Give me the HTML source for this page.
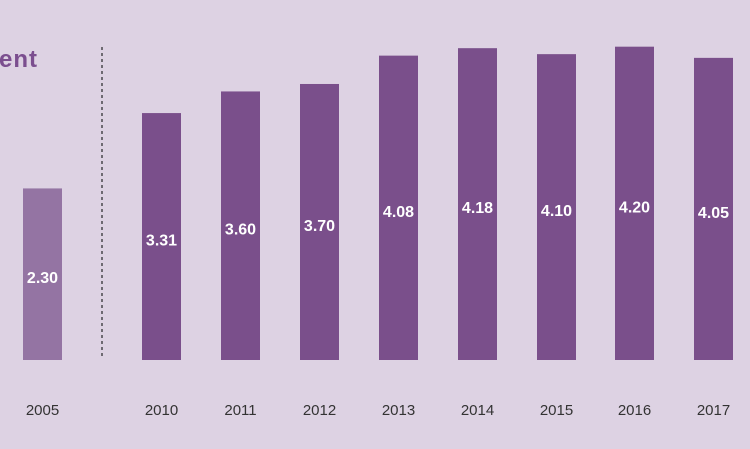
<!DOCTYPE html>
<html><head><meta charset="utf-8"><style>
body{margin:0;background:#ddd2e3;}
svg{display:block;font-family:"Liberation Sans",sans-serif;}
</style></head><body>
<svg id="chart" width="750" height="449" viewBox="0 0 750 449">
<rect x="0" y="0" width="750" height="449" fill="#ddd2e3"/>
<text x="-1" y="67" font-size="24" font-weight="bold" letter-spacing="1" fill="#7b4e8f">ent</text>
<line x1="102" y1="47" x2="102" y2="357" stroke="#6e6a72" stroke-width="2" stroke-dasharray="3,3"/>
<g id="bars"></g>
</svg>
<script>
const years = ["2005","2010","2011","2012","2013","2014","2015","2016","2017"];
const values = [2.30,3.31,3.60,3.70,4.08,4.18,4.10,4.20,4.05];
const labels = ["2.30","3.31","3.60","3.70","4.08","4.18","4.10","4.20","4.05"];
const xLeft = [23,142,221,300,379,458,537,615,694];
const baseY=360, scale=74.6, bw=39;
const yAxis = v => baseY - v*scale;
const g=document.getElementById('bars');
const ns="http://www.w3.org/2000/svg";
years.forEach((yr,i)=>{
  const top=yAxis(values[i]);
  const r=document.createElementNS(ns,'rect');
  r.setAttribute('x',xLeft[i]);r.setAttribute('y',top);
  r.setAttribute('width',bw);r.setAttribute('height',baseY-top);
  r.setAttribute('fill',i===0?'#9474a3':'#7a4f8b');
  
  
  g.appendChild(r);
  const t=document.createElementNS(ns,'text');
  t.setAttribute('x',xLeft[i]+bw/2);t.setAttribute('y',(top+baseY)/2+9);
  t.setAttribute('text-anchor','middle');t.setAttribute('font-size','16');
  t.setAttribute('font-weight','bold');t.setAttribute('fill','#fff');
  t.textContent=labels[i];
  
  
  g.appendChild(t);
  const y=document.createElementNS(ns,'text');
  y.setAttribute('x',xLeft[i]+bw/2);y.setAttribute('y',415);
  y.setAttribute('text-anchor','middle');y.setAttribute('font-size','15');
  y.setAttribute('fill','#333');
  y.textContent=yr;
  
  
  g.appendChild(y);
});
</script>
</body></html>
